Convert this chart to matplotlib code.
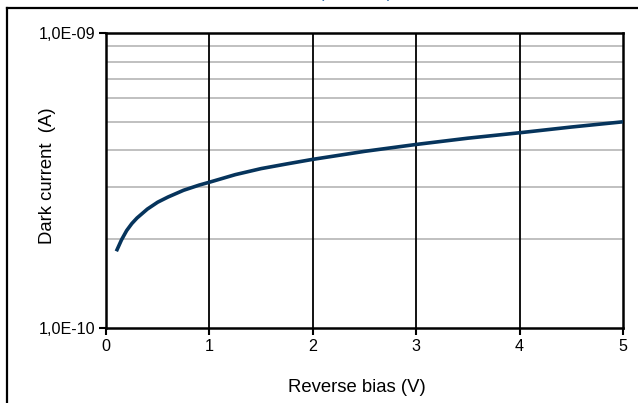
import matplotlib
matplotlib.use("Agg")
import matplotlib.pyplot as plt
from matplotlib.ticker import FixedLocator, NullFormatter, FixedFormatter

plt.rcParams['font.family'] = ['Liberation Sans', 'DejaVu Sans']

# Dark current vs reverse bias
bias_v = [0.1, 0.15, 0.2, 0.25, 0.3, 0.4, 0.5, 0.6, 0.75, 0.9, 1.0, 1.25, 1.5,
          1.75, 2.0, 2.5, 3.0, 3.5, 4.0, 4.5, 5.0]
dark_a = [1.82e-10, 1.99e-10, 2.14e-10, 2.26e-10, 2.36e-10, 2.53e-10, 2.67e-10,
          2.78e-10, 2.93e-10, 3.05e-10, 3.12e-10, 3.31e-10, 3.47e-10,
          3.60e-10, 3.73e-10, 3.97e-10, 4.19e-10, 4.40e-10, 4.59e-10, 4.80e-10, 5.00e-10]

x_ticks = [0, 1, 2, 3, 4, 5]
y_ticks = [1e-10, 1e-9]
y_tick_labels = ["1,0E-10", "1,0E-09"]
y_minor = [k * 1e-10 for k in range(2, 10)]

fig = plt.figure(figsize=(6.38, 4.03), dpi=100)
ax = fig.add_axes([106 / 638, 1 - 328 / 403, 517 / 638, 295 / 403])

ax.set_yscale('log')
ax.set_xlim(0, 5)
ax.set_ylim(1e-10, 1e-9)

ax.yaxis.set_major_locator(FixedLocator(y_ticks))
ax.yaxis.set_major_formatter(FixedFormatter(y_tick_labels))
ax.yaxis.set_minor_locator(FixedLocator(y_minor))
ax.yaxis.set_minor_formatter(NullFormatter())
ax.xaxis.set_major_locator(FixedLocator(x_ticks))

# gray minor grid on y, black major grid on x
for v in y_minor:
    ax.axhline(v, color='#c0c0c0', lw=1.4, zorder=1)
for v in x_ticks[1:-1]:
    ax.axvline(v, color='black', lw=1.3, zorder=1)

ax.plot(bias_v, dark_a, color='#06345c', lw=2.6, solid_capstyle='butt',
        solid_joinstyle='round', zorder=3)

for s in ax.spines.values():
    s.set_linewidth(1.8)
    s.set_color('black')

ax.tick_params(axis='both', which='major', direction='out', length=5, width=1.5,
               labelsize=11.6, pad=3)
ax.tick_params(axis='y', which='minor', length=0)

ax.set_xlabel('Reverse bias (V)', fontsize=13.3, va='center')
ax.xaxis.set_label_coords(0.4845, -0.2)
ax.set_ylabel('Dark current  (A)', fontsize=13.3, va='center')
ax.yaxis.set_label_coords(-0.114, 0.515)

# chart frame
fig.add_artist(plt.Line2D([7 / 638, 7 / 638], [0, 1 - 7.5 / 403],
                          transform=fig.transFigure, color='black', lw=1.6))
fig.add_artist(plt.Line2D([7 / 638, 1], [1 - 7.5 / 403, 1 - 7.5 / 403],
                          transform=fig.transFigure, color='black', lw=1.6))

fig.text(356 / 638, 1 + 2.5 / 403, '(Ta=25°C)', ha='center', va='baseline',
         fontsize=11.6, color='#1f5fa0')

fig.savefig('out.png', dpi=100, facecolor='white')
